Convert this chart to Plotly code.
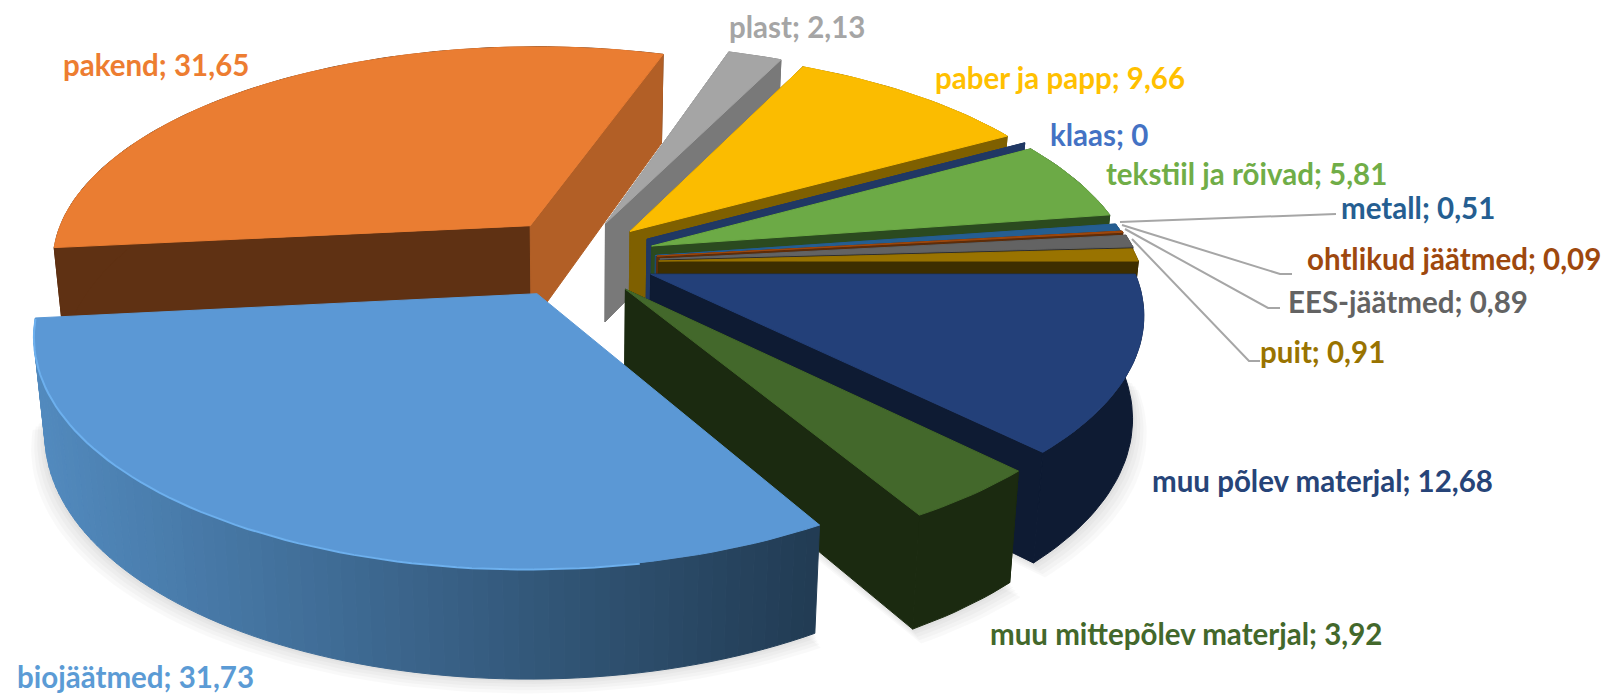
import numpy as np
import plotly.graph_objects as go

# ---- data (clockwise from the plast slice) ----
names = ["plast", "paber ja papp", "klaas", "tekstiil ja rõivad", "metall", "ohtlikud jäätmed",
         "EES-jäätmed", "puit", "muu põlev materjal", "muu mittepõlev materjal", "biojäätmed", "pakend"]
values = [2.13, 9.66, 0, 5.81, 0.51, 0.09, 0.89, 0.91, 12.68, 3.92, 31.73, 31.65]
explode = [0.14, 0.152, 0.160, 0.157, 0.157, 0.160, 0.165, 0.162, 0.156, 0.150, 0.21, 0.172]
nudge_y = [0, 4, 5, 6, 9, 9, 11, 11, 10, 12, 1, 3]
top_colors = ["#A5A5A5", "#FBBC00", "#4472C4", "#6CAA46", "#255E91", "#9E480E", "#636363", "#997300",
              "#234079", "#43682B", "#5B98D5", "#EA7D32"]
side_colors = ["#797979", "#7F6000", "#203864", "#2B4A1F", "#1C4A73", "#5E2C08", "#2E2E2E", "#3D2E00",
               "#0E1B33", "#1B2A10", "#2C4E70", "#5F3113"]
label_colors = ["#A5A5A5", "#FFC000", "#4472C4", "#70AD47", "#255E91", "#9E480E", "#636363", "#997300",
                "#264478", "#43682B", "#5B9BD5", "#ED7D31"]
label_x = [727, 933, 1048, 1104, 1339, 1305, 1286, 1258, 1150, 988, 15, 61]
label_y = [26, 77, 134, 173, 207, 258, 301, 351, 480, 633, 676, 64]
leaders = {4: [(1120, 222), (1336, 214)], 5: [(1122, 225), (1280, 274), (1292, 274)],
           6: [(1125, 229), (1268, 308), (1280, 308)], 7: [(1132, 239), (1249, 361), (1260, 361)]}

# ---- projection ----
CX, CY, R, TY, K = 581, 251, 480, 0.45, 0.16
H, SHRINK = 100, 0.98
START = 18.0
BLUE_LEFT, BLUE_RIGHT = (82, 138, 190), (34, 60, 84)


def proj(u, v, bottom=False, h=H):
    s = 1 / (1 + K * np.asarray(v))
    x = CX + R * np.asarray(u) * s
    y = CY - R * TY * np.asarray(v) * s
    if bottom:
        x = CX + (x - CX) * SHRINK
        y = y + h * (1 + 0.75 * (s - 1))
    return x, y


def poly(fig, x, y, color, line=True):
    fig.add_trace(go.Scatter(x=np.r_[x, x[0]], y=np.r_[y, y[0]], mode="lines", fill="toself", fillcolor=color,
                             line=dict(color=color, width=1 if line else 0), hoverinfo="skip", showlegend=False))


def lerp(a, b, f):
    f = min(max(f, 0), 1)
    return "rgb(%d,%d,%d)" % tuple(a[i] + (b[i] - a[i]) * f for i in range(3))


fig = go.Figure()
fracs = np.array(values) / sum(values) * 360
edges = START + np.r_[0, np.cumsum(fracs)]
# painter's order: pakend at the back, biojäätmed last
order = [11, 0, 1, 2, 3, 4, 5, 6, 7, 8, 9, 10]

for i in order:
    a, b = edges[i], edges[i + 1]
    mid = np.radians((a + b) / 2)
    ox, oy = explode[i] * np.sin(mid), explode[i] * np.cos(mid)
    th = np.radians(np.linspace(a, b, max(int((b - a) / 1.5) + 2, 2)))
    u = ox + np.sin(th)
    v = oy + np.cos(th)
    n = nudge_y[i]
    h = H * 0.94 if i == 10 else H
    ax, ay = proj(ox, oy)
    bx, by = proj(ox, oy, True, h)
    tx, ty = proj(u, v)
    dx, dy = proj(u, v, True, h)
    ay, by, ty, dy = ay + n, by + n, ty + n, dy + n
    if i == 10:
        ax, bx, tx, dx = ax + 3, bx + 3, tx + 3, dx + 3

    if i in (8, 9, 10):  # soft shadow on the page
        ox2 = np.r_[bx, dx]
        oy2 = np.r_[by, dy]
        for d in (18, 14, 10, 6, 3):
            poly(fig, CX + (ox2 - CX) * (1 + d / 700), oy2 + d * 0.8, "rgba(0,0,0,0.022)", False)

    side = side_colors[i]
    face_end = "#B25F26" if i == 11 else side
    if i != 10:
        poly(fig, np.array([ax, tx[0], dx[0], bx]), np.array([ay, ty[0], dy[0], by]), side)
    if i == 10:  # gradient side of the big slice
        for j in range(len(th) - 1):
            f = (tx[j] - 40) / 780
            c = lerp(BLUE_LEFT, BLUE_RIGHT, f)
            poly(fig, np.array([tx[j], tx[j + 1], dx[j + 1], dx[j]]), np.array([ty[j], ty[j + 1], dy[j + 1], dy[j]]), c)
    else:
        if b > a:
            poly(fig, np.r_[tx, dx[::-1]], np.r_[ty, dy[::-1]], side)
        poly(fig, np.array([ax, tx[-1], dx[-1], bx]), np.array([ay, ty[-1], dy[-1], by]), face_end)
    if b > a:
        poly(fig, np.r_[ax, tx], np.r_[ay, ty], top_colors[i])
    if i == 10:
        keep = tx < 640
        fig.add_trace(go.Scatter(x=tx[keep], y=ty[keep] + 1, mode="lines", line=dict(color="#6DB0EE", width=2),
                                 hoverinfo="skip", showlegend=False))

for pts in leaders.values():
    fig.add_trace(go.Scatter(x=[p[0] for p in pts], y=[p[1] for p in pts], mode="lines",
                             line=dict(color="#A6A6A6", width=2), hoverinfo="skip", showlegend=False))

for n, val, c, x, y in zip(names, values, label_colors, label_x, label_y):
    fig.add_annotation(x=x, y=y, text=f"<b>{n}; {str(val).replace('.', ',')}</b>", showarrow=False,
                       xanchor="left", yanchor="middle", font=dict(family="Lato", size=29.5, color=c))

fig.update_layout(width=1618, height=695, margin=dict(l=0, r=0, t=0, b=0), paper_bgcolor="white",
                  plot_bgcolor="white", showlegend=False,
                  xaxis=dict(range=[0, 1618], visible=False, fixedrange=True),
                  yaxis=dict(range=[695, 0], visible=False, fixedrange=True))
fig.write_html("out.html", config={"displayModeBar": False}, post_script="document.body.style.margin='0';")
